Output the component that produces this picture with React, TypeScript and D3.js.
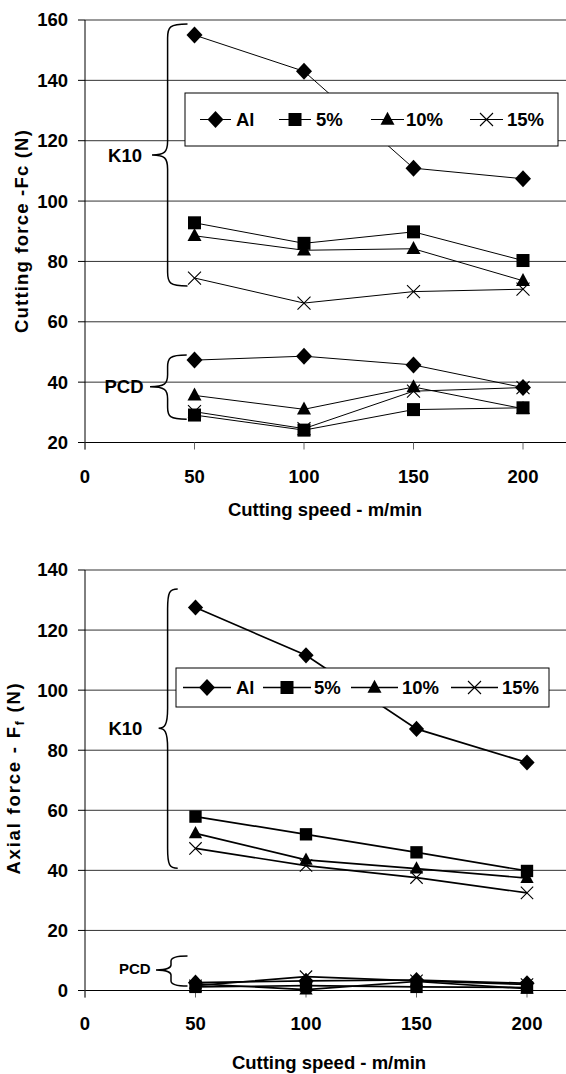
import React from "react";
import * as d3 from "d3";

const speeds = [50, 100, 150, 200];
const seriesNames = ["Al", "5%", "10%", "15%"];
const markerTypes = ["diamond", "square", "triangle", "x"];

// Top chart: cutting force Fc (N)
const fcK10Al = [155, 143, 110.9, 107.4];
const fcK10P5 = [92.8, 86, 89.8, 80.3];
const fcK10P10 = [88.5, 83.7, 84.2, 73.6];
const fcK10P15 = [74.5, 66.2, 70, 70.8];
const fcPcdAl = [47.3, 48.6, 45.7, 38.2];
const fcPcdP5 = [29.1, 24.1, 30.9, 31.5];
const fcPcdP10 = [35.6, 31, 38.4, 31.2];
const fcPcdP15 = [30.2, 24.6, 37, 38.2];

// Bottom chart: axial force Ff (N)
const ffK10Al = [127.5, 111.6, 87.1, 75.9];
const ffK10P5 = [57.9, 52, 46, 39.8];
const ffK10P10 = [52.3, 43.5, 40.6, 37.4];
const ffK10P15 = [47.3, 41.6, 37.6, 32.5];
const ffPcdAl = [2.6, 3.2, 3.5, 2.4];
const ffPcdP5 = [1.2, 1.6, 1.2, 1.0];
const ffPcdP10 = [2.2, 0.3, 3.0, 0.6];
const ffPcdP15 = [1.6, 4.6, 3.2, 2.0];

const xTicks = [0, 50, 100, 150, 200];
const fcTicks = [20, 40, 60, 80, 100, 120, 140, 160];
const ffTicks = [0, 20, 40, 60, 80, 100, 120, 140];

const FONT = "'Liberation Sans', Arial, sans-serif";
const FS = 18.5;

function Marker({ type, x, y, s = 1 }: { type: string; x: number; y: number; s?: number }) {
  if (type === "diamond") {
    const w = 8 * s, h = 8.5 * s;
    return <path d={`M${x},${y - h}L${x + w},${y}L${x},${y + h}L${x - w},${y}Z`} fill="#000" />;
  }
  if (type === "square") {
    const a = 6.5 * s;
    return <rect x={x - a} y={y - a} width={2 * a} height={2 * a} fill="#000" />;
  }
  if (type === "triangle") {
    const w = 7 * s, h = 13 * s;
    return <path d={`M${x},${y - h * 0.6}L${x + w},${y + h * 0.4}L${x - w},${y + h * 0.4}Z`} fill="#000" />;
  }
  const a = 6.5 * s;
  return (
    <path d={`M${x - a},${y - a}L${x + a},${y + a}M${x - a},${y + a}L${x + a},${y - a}`} stroke="#000" strokeWidth={1.1} fill="none" />
  );
}

type ChartProps = {
  x: d3.ScaleLinear<number, number>;
  y: d3.ScaleLinear<number, number>;
  yTicks: number[];
  groups: number[][];
  lineWidth: number;
  markerScale: number;
};

function Plot({ x, y, yTicks, groups, lineWidth, markerScale }: ChartProps) {
  const line = d3
    .line<number>()
    .x((_, i) => x(speeds[i]))
    .y((d) => y(d));
  const x0 = x(0);
  const yBase = y(yTicks[0]);
  return (
    <g>
      {yTicks.slice(1).map((t, i) => (
        <line key={t} x1={x0} x2={566} y1={y(t)} y2={y(t)} stroke={i === yTicks.length - 2 ? "#777" : "#333"} strokeWidth={i === yTicks.length - 2 ? 1.5 : 1} />
      ))}
      {yTicks.map((t) => (
        <g key={"t" + t}>
          <line x1={x0 - 7} x2={x0} y1={y(t)} y2={y(t)} stroke="#000" />
          <text x={68} y={y(t)} dy="0.35em" textAnchor="end" fontFamily={FONT} fontWeight="bold" fontSize={FS}>
            {t}
          </text>
        </g>
      ))}
      <line x1={x0} x2={x0} y1={y(yTicks[yTicks.length - 1])} y2={yBase + 7} stroke="#000" />
      <line x1={x0} x2={566} y1={yBase} y2={yBase} stroke="#000" />
      {xTicks.map((t) => (
        <g key={"x" + t}>
          <line x1={x(t)} x2={x(t)} y1={yBase} y2={yBase + 7} stroke="#666" />
        </g>
      ))}
      {groups.map((vals, i) => (
        <path key={"l" + i} d={line(vals) || ""} fill="none" stroke="#000" strokeWidth={lineWidth} />
      ))}
      {groups.map((vals, i) =>
        vals.map((v, j) => (
          <Marker key={`m${i}-${j}`} type={markerTypes[i % 4]} x={x(speeds[j])} y={y(v)} s={markerScale} />
        ))
      )}
    </g>
  );
}

function Legend({ x0, y0, w, h, items, lineWidth }: { x0: number; y0: number; w: number; h: number; items: { lx1: number; lx2: number; tx: number }[]; lineWidth: number }) {
  const cy = y0 + h / 2;
  return (
    <g>
      <rect x={x0} y={y0} width={w} height={h} fill="#fff" stroke="#000" strokeWidth={1} />
      {items.map((it, i) => (
        <g key={i}>
          <line x1={it.lx1} x2={it.lx2} y1={cy} y2={cy} stroke="#000" strokeWidth={lineWidth} />
          <Marker type={markerTypes[i]} x={(it.lx1 + it.lx2) / 2} y={cy} />
          <text x={it.tx} y={cy} dy="0.36em" fontFamily={FONT} fontWeight="bold" fontSize={FS}>
            {seriesNames[i]}
          </text>
        </g>
      ))}
    </g>
  );
}

function brace(xTop: number, yTop: number, xv: number, xTip: number, yTip: number, yBot: number, r: number) {
  return `M${xTop},${yTop} C${xv + 2},${yTop} ${xv},${yTop + 3} ${xv},${yTop + r}
  L${xv},${yTip - r} C${xv},${yTip - 3} ${xv - 3},${yTip} ${xTip},${yTip}
  C${xv - 3},${yTip} ${xv},${yTip + 3} ${xv},${yTip + r}
  L${xv},${yBot - r} C${xv},${yBot - 3} ${xv + 2},${yBot} ${xTop},${yBot}`;
}

export default function App() {
  const xTop = d3.scaleLinear().domain([0, 200]).range([85, 523]);
  const yTop = d3.scaleLinear().domain([20, 160]).range([442.5, 20]);
  const xBot = d3.scaleLinear().domain([0, 200]).range([85, 527]);
  const yBot = d3.scaleLinear().domain([0, 140]).range([990.5, 570]);

  return (
    <svg width={566} height={1074} style={{ position: "absolute", left: 0, top: 0, background: "#fff" }}>
      <rect width={566} height={1074} fill="#fff" />
      {/* Top chart */}
      <Plot
        x={xTop}
        y={yTop}
        yTicks={fcTicks}
        groups={[fcK10Al, fcK10P5, fcK10P10, fcK10P15, fcPcdAl, fcPcdP5, fcPcdP10, fcPcdP15]}
        lineWidth={1}
        markerScale={1}
      />
      {xTicks.map((t) => (
        <text key={"xt" + t} x={xTop(t)} y={477} dy="0.35em" textAnchor="middle" fontFamily={FONT} fontWeight="bold" fontSize={FS}>
          {t}
        </text>
      ))}
      <text x={325} y={510} dy="0.35em" textAnchor="middle" fontFamily={FONT} fontWeight="bold" fontSize={FS}>
        Cutting speed - m/min
      </text>
      <text transform="translate(28,231) rotate(-90)" textAnchor="middle" fontFamily={FONT} fontWeight="bold" fontSize={FS} letterSpacing={1.2}>
        Cutting force -Fc (N)
      </text>
      <path d={brace(187.5, 24, 167.6, 152, 155, 286, 14)} fill="none" stroke="#000" strokeWidth={1.5} />
      <text x={142} y={156} dy="0.35em" textAnchor="end" fontFamily={FONT} fontWeight="bold" fontSize={FS}>K10</text>
      <path d={brace(186.7, 355, 167.6, 150, 386.7, 419.3, 12)} fill="none" stroke="#000" strokeWidth={1.5} />
      <text x={143.5} y={387} dy="0.35em" textAnchor="end" fontFamily={FONT} fontWeight="bold" fontSize={FS}>PCD</text>
      <Legend
        x0={185}
        y0={93}
        w={373}
        h={53}
        lineWidth={1}
        items={[
          { lx1: 200, lx2: 231, tx: 236 },
          { lx1: 279, lx2: 311, tx: 316 },
          { lx1: 371, lx2: 404, tx: 406 },
          { lx1: 470, lx2: 503, tx: 507 },
        ]}
      />

      {/* Bottom chart */}
      <Plot
        x={xBot}
        y={yBot}
        yTicks={ffTicks}
        groups={[ffK10Al, ffK10P5, ffK10P10, ffK10P15, ffPcdAl, ffPcdP5, ffPcdP10, ffPcdP15]}
        lineWidth={1.7}
        markerScale={0.95}
      />
      {xTicks.map((t) => (
        <text key={"xb" + t} x={xBot(t)} y={1024} dy="0.35em" textAnchor="middle" fontFamily={FONT} fontWeight="bold" fontSize={FS}>
          {t}
        </text>
      ))}
      <text x={329} y={1063} dy="0.35em" textAnchor="middle" fontFamily={FONT} fontWeight="bold" fontSize={FS}>
        Cutting speed - m/min
      </text>
      <text transform="translate(20,778) rotate(-90)" textAnchor="middle" fontFamily={FONT} fontWeight="bold" fontSize={FS} letterSpacing={1.8}>
        Axial force - F<tspan fontSize={12} dy={4}>f</tspan><tspan dy={-4}> (N)</tspan>
      </text>
      <path d={brace(177.7, 589, 167.6, 158.6, 728.3, 868.3, 20)} fill="none" stroke="#000" strokeWidth={1.5} />
      <text x={142.4} y={729} dy="0.35em" textAnchor="end" fontFamily={FONT} fontWeight="bold" fontSize={FS}>K10</text>
      <path d={brace(187.5, 956, 171, 156, 970, 986, 5)} fill="none" stroke="#000" strokeWidth={1.5} />
      <text x={150.7} y={968.5} dy="0.35em" textAnchor="end" fontFamily={FONT} fontWeight="bold" fontSize={15}>PCD</text>
      <Legend
        x0={176}
        y0={668}
        w={373}
        h={39}
        lineWidth={1.7}
        items={[
          { lx1: 183, lx2: 231, tx: 236 },
          { lx1: 263, lx2: 311, tx: 314 },
          { lx1: 351, lx2: 398, tx: 402 },
          { lx1: 451, lx2: 498, tx: 502 },
        ]}
      />
    </svg>
  );
}
